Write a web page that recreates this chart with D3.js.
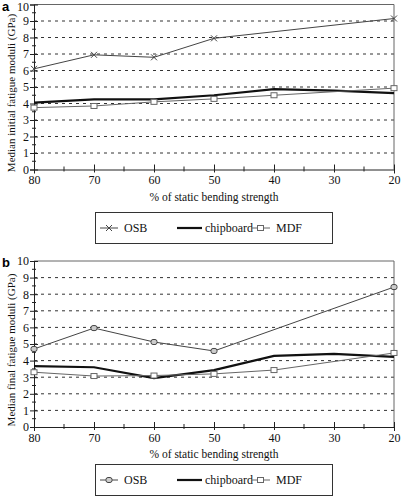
<!DOCTYPE html>
<html><head><meta charset="utf-8">
<script src="https://cdn.jsdelivr.net/npm/d3@7"></script>
<style>body{margin:0;background:#fff}svg{display:block}</style>
</head><body>
<script>
const xValues = [80, 70, 60, 50, 40, 30, 20];
const xTicks = [80, 70, 60, 50, 40, 30, 20];
const yTicks = [0,1,2,3,4,5,6,7,8,9,10];
// panel a (initial)
const aOSB = [6.1, 6.95, 6.8, 7.95, null, null, 9.15];
const aChip = [4.05, 4.25, 4.25, 4.5, 4.87, 4.78, 4.63];
const aMDF = [3.75, 3.85, 4.1, 4.28, 4.5, null, 4.93];
// panel b (final)
const bOSB = [4.7, 5.96, 5.12, 4.58, null, null, 8.43];
const bChip = [3.67, 3.6, 2.95, 3.43, 4.28, 4.4, 4.22];
const bMDF = [3.3, 3.07, 3.1, 3.2, 3.43, null, 4.46];
const seriesNames = ["OSB", "chipboard", "MDF"];

const W = 402, H = 496;
const svg = d3.select("body").append("svg").attr("width", W).attr("height", H);
const serif = "'Liberation Serif','DejaVu Serif',serif";

function panel(cfg) {
  const x = d3.scaleLinear().domain([80, 20]).range([34, 394]);
  const y = d3.scaleLinear().domain([0, 10]).range([cfg.y0, cfg.y10]);
  const g = svg.append("g");
  g.selectAll("line.grid").data(yTicks.filter(v => v > 0 && v < 10)).join("line")
    .attr("x1", x(80)).attr("x2", x(20)).attr("y1", d => y(d)).attr("y2", d => y(d))
    .attr("stroke", "#333").attr("stroke-width", 1).attr("stroke-dasharray", "3,4");
  g.append("path").attr("d", `M${x(80)},${y(10)}H${x(20)}V${y(0)}`)
    .attr("fill", "none").attr("stroke", "#666").attr("stroke-width", 1);
  const ya = d3.axisLeft(y).tickValues(yTicks).tickSize(4).tickFormat(d3.format("d"));
  const yg = g.append("g").attr("transform", `translate(${x(80)},0)`).call(ya);
  yg.select(".domain").attr("stroke", "#222");
  yg.selectAll(".tick line").attr("x2", 4).attr("x1", -4).attr("stroke", "#222");
  yg.selectAll(".tick text").attr("x", -5).style("font-family", serif).style("font-size", "12px").attr("fill", "#111")
    .attr("dy", d => d === 10 ? (0.32 + cfg.topShift / 12) + "em" : "0.32em");
  g.selectAll("line.ym").data(d3.range(0.5, 10, 1)).join("line")
    .attr("x1", x(80) - 2).attr("x2", x(80) + 2).attr("y1", d => y(d)).attr("y2", d => y(d)).attr("stroke", "#222");
  const xa = d3.axisBottom(x).tickValues(xTicks).tickSize(4).tickFormat(d3.format("d"));
  const xg = g.append("g").attr("transform", `translate(0,${y(0)})`).call(xa);
  xg.select(".domain").attr("stroke", "#222");
  xg.selectAll(".tick line").attr("y1", -5).attr("y2", 3).attr("stroke", "#222");
  xg.selectAll(".tick text").attr("y", 6).style("font-family", serif).style("font-size", "12px").attr("fill", "#111");
  g.selectAll("line.xm").data(d3.range(75, 20, -10)).join("line")
    .attr("x1", d => x(d)).attr("x2", d => x(d)).attr("y1", y(0) - 3).attr("y2", y(0) + 2).attr("stroke", "#222");
  g.append("text").attr("x", 214).attr("y", y(0) + 31).attr("text-anchor", "middle")
    .style("font-family", serif).style("font-size", "11.5px").attr("fill", "#111").text("% of static bending strength");
  g.append("text").attr("transform", `translate(15,${(y(0) + y(10)) / 2 + 6}) rotate(-90)`).attr("text-anchor", "middle")
    .style("font-family", serif).style("font-size", "11px").attr("fill", "#111").text(cfg.ytitle);
  g.append("text").attr("x", 2).attr("y", y(10) + 6).style("font-family", "'Liberation Sans',Arial,sans-serif")
    .style("font-weight", "bold").style("font-size", "13px").text(cfg.label);

  const line = d3.line().x(d => x(d.x)).y(d => y(d.v));
  const pts = arr => xValues.map((xv, i) => ({ x: xv, v: arr[i] })).filter(d => d.v != null);
  const drawMarker = (sel, kind, color) => {
    if (kind === "x") {
      sel.append("path").attr("d", "M-3,-3L3,3M-3,3L3,-3").attr("stroke", color).attr("stroke-width", 1).attr("fill", "none");
    } else if (kind === "sq") {
      sel.append("rect").attr("x", -3).attr("y", -2.5).attr("width", 6).attr("height", 5).attr("fill", "#fff").attr("stroke", color).attr("stroke-width", 1);
    } else if (kind === "circ") {
      sel.append("rect").attr("x", -3).attr("y", -2.5).attr("width", 6).attr("height", 5).attr("rx", 2).attr("fill", "#ccc").attr("stroke", color).attr("stroke-width", 1);
    }
  };
  const series = [
    { data: cfg.chip, color: "#111", w: 2.2, m: null },
    { data: cfg.mdf, color: "#666", w: 1, m: "sq" },
    { data: cfg.osb, color: "#444", w: 1, m: cfg.osbMarker }
  ];
  series.forEach(s => {
    const p = pts(s.data);
    g.append("path").datum(p).attr("d", line).attr("fill", "none").attr("stroke", s.color).attr("stroke-width", s.w);
    if (s.m) {
      p.forEach(d => {
        const mg = g.append("g").attr("transform", `translate(${x(d.x)},${y(d.v)})`);
        drawMarker(mg, s.m, s.color);
      });
    }
  });
  const ly = cfg.legendY;
  g.append("rect").attr("x", 95.5).attr("y", ly + 0.5).attr("width", 237).attr("height", 31)
    .attr("fill", "#fff").attr("stroke", "#333").attr("stroke-width", 1);
  const cy = ly + 16;
  const items = [
    { name: seriesNames[0], x1: 100, x2: 118, tx: 124, color: "#444", w: 1, m: cfg.osbMarker },
    { name: seriesNames[1], x1: 177, x2: 202, tx: 205, color: "#111", w: 2.2, m: null },
    { name: seriesNames[2], x1: 251, x2: 270, tx: 276, color: "#666", w: 1, m: "sq" }
  ];
  items.forEach(it => {
    g.append("line").attr("x1", it.x1).attr("x2", it.x2).attr("y1", cy).attr("y2", cy).attr("stroke", it.color).attr("stroke-width", it.w);
    if (it.m) drawMarker(g.append("g").attr("transform", `translate(${(it.x1 + it.x2) / 2},${cy})`), it.m, it.color);
    g.append("text").attr("x", it.tx).attr("y", cy + 4).style("font-family", serif).style("font-size", "12px").attr("fill", "#111").text(it.name);
  });
}

panel({ y0: 169.5, y10: 4.5, label: "a", ytitle: "Median initial fatigue moduli (GPa)",
  osb: aOSB, chip: aChip, mdf: aMDF, osbMarker: "x", legendY: 212, topShift: 2 });
panel({ y0: 427, y10: 261, label: "b", ytitle: "Median final fatigue moduli (GPa)",
  osb: bOSB, chip: bChip, mdf: bMDF, osbMarker: "circ", legendY: 464, topShift: 0 });
</script>
</body></html>
